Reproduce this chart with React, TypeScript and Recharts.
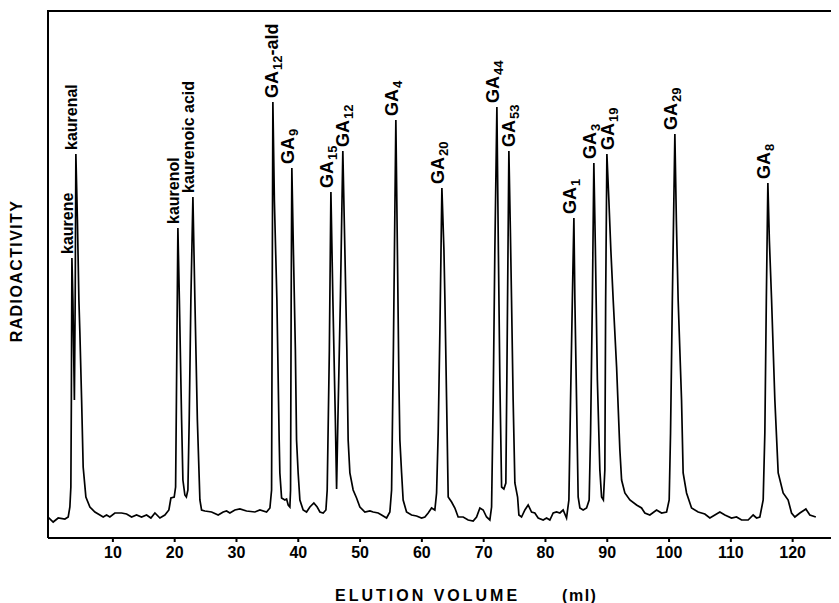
import React from 'react';
import { ComposedChart, Line, Scatter, XAxis, YAxis, ReferenceLine } from 'recharts';

// Elution volume (ml) of each point on the trace
const elutionMl = [
  -0.5, 0.34, 1.15, 2.23, 2.77, 3.04, 3.2, 3.28, 3.37, 3.53, 3.77, 3.9, 4.01, 4.26, 4.5, 4.66, 4.94, 5.19, 5.63, 6.28,
  7.09, 7.9, 8.43, 8.98, 9.51, 10.32, 11.41, 12.22, 13.03, 13.83, 14.64, 15.45, 16.15, 16.8, 17.61, 18.41, 19.06, 19.39, 19.92, 20.15,
  20.28, 20.52, 20.76, 21.12, 21.33, 21.65, 21.89, 22.14, 22.35, 22.62, 22.95, 23.27, 23.67, 24.08, 24.35, 24.89, 25.97, 27.04, 27.85, 28.4,
  28.93, 29.74, 30.55, 31.63, 32.98, 33.79, 34.87, 35.41, 35.68, 35.78, 35.89, 36.13, 36.54, 36.91, 37.02, 37.3, 37.83, 38.11, 38.37, 38.64,
  38.75, 38.85, 38.96, 39.21, 39.53, 39.72, 39.98, 40.26, 40.79, 41.34, 41.88, 42.52, 43.06, 43.5, 44.03, 44.47, 44.68, 45.03, 45.28, 45.6,
  46.0, 46.2, 46.41, 46.81, 47.21, 47.54, 47.86, 48.07, 48.35, 48.88, 49.43, 49.97, 50.78, 51.59, 52.12, 52.93, 53.48, 54.29, 54.82, 55.1,
  55.39, 55.79, 56.04, 56.28, 56.44, 56.72, 56.97, 57.52, 58.33, 59.14, 59.95, 60.49, 61.02, 61.57, 62.1, 62.38, 62.64, 62.91, 63.24, 63.57,
  63.73, 64.0, 64.26, 64.81, 65.34, 65.87, 66.68, 67.49, 68.3, 68.85, 69.39, 69.92, 70.47, 71.0, 71.28, 71.54, 71.81, 72.14, 72.38, 72.62,
  72.9, 73.27, 73.59, 73.75, 74.08, 74.32, 74.51, 74.77, 75.05, 75.49, 75.7, 76.13, 76.67, 77.2, 77.75, 78.28, 78.82, 79.63, 80.18, 80.71,
  81.25, 81.8, 82.33, 82.86, 83.41, 83.79, 84.06, 84.35, 84.6, 84.76, 85.03, 85.29, 85.57, 86.1, 86.65, 87.07, 87.3, 87.59, 87.83, 88.08,
  88.4, 88.8, 89.08, 89.37, 89.61, 89.74, 89.94, 90.26, 90.58, 90.96, 91.51, 92.04, 92.32, 92.85, 93.66, 94.74, 95.55, 96.08, 96.89, 97.98,
  98.79, 99.6, 100.02, 100.24, 100.53, 100.94, 101.18, 101.47, 102.02, 102.28, 102.83, 103.64, 104.71, 105.79, 106.6, 107.41, 108.22, 109.03, 110.11, 110.92,
  111.73, 112.8, 113.61, 114.16, 114.69, 115.23, 115.5, 115.74, 115.99, 116.23, 116.59, 117.12, 117.66, 118.46, 119.27, 119.82, 120.36, 121.17, 122.14, 122.78,
  123.75,
];

// Radioactivity (arbitrary units) at each point
const radioactivity = [
  21, 16, 20, 19, 21, 31, 51, 138, 280, 238, 138, 238, 384, 318, 238, 205, 138, 71, 41, 31,
  26, 23, 21, 23, 21, 25, 25, 24, 21, 23, 21, 23, 20, 25, 20, 23, 28, 40, 41, 51,
  138, 310, 238, 118, 58, 43, 41, 48, 118, 238, 341, 238, 118, 38, 28, 27, 26, 23, 26, 27,
  25, 28, 29, 27, 26, 28, 26, 30, 48, 238, 436, 338, 238, 98, 65, 40, 38, 39, 33, 31,
  48, 238, 370, 288, 188, 98, 65, 38, 28, 26, 31, 35, 31, 26, 25, 28, 48, 188, 346, 238,
  118, 49, 118, 238, 387, 288, 188, 98, 65, 48, 40, 31, 26, 27, 26, 25, 23, 20, 26, 48,
  188, 418, 288, 158, 98, 65, 38, 26, 23, 22, 20, 21, 25, 30, 28, 45, 105, 205, 350, 288,
  238, 138, 41, 36, 30, 21, 21, 18, 17, 21, 30, 28, 21, 18, 31, 138, 288, 431, 288, 158,
  51, 49, 55, 158, 387, 308, 238, 138, 55, 41, 23, 21, 28, 33, 26, 25, 20, 18, 20, 18,
  25, 26, 25, 28, 20, 38, 138, 238, 320, 238, 138, 41, 30, 28, 30, 38, 105, 238, 375, 288,
  158, 68, 41, 38, 68, 238, 384, 338, 288, 238, 171, 88, 58, 45, 38, 33, 30, 25, 23, 28,
  25, 26, 38, 105, 238, 404, 318, 238, 138, 65, 45, 30, 26, 24, 20, 23, 26, 23, 20, 21,
  18, 18, 23, 20, 21, 38, 105, 238, 355, 298, 238, 138, 65, 45, 38, 25, 21, 25, 29, 23,
  21,
];

// Labelled peaks
const peakName = ['kaurene', 'kaurenal', 'kaurenol', 'kaurenoic acid', 'GA', 'GA', 'GA', 'GA', 'GA', 'GA', 'GA', 'GA', 'GA', 'GA', 'GA', 'GA', 'GA'];
const peakSub = ['', '', '', '', '12', '9', '15', '12', '4', '20', '44', '53', '1', '3', '19', '29', '8'];
const peakSuffix = ['', '', '', '', '-ald', '', '', '', '', '', '', '', '', '', '', '', ''];
const peakMl = [3.37, 4.01, 20.52, 22.95, 35.89, 38.96, 45.28, 47.21, 55.79, 63.24, 72.14, 74.08, 84.6, 87.83, 89.94, 100.94, 115.99];
const peakTop = [280, 384, 310, 341, 436, 370, 346, 387, 418, 350, 431, 387, 320, 375, 384, 404, 355];

const xTicks = [10, 20, 30, 40, 50, 60, 70, 80, 90, 100, 110, 120];

const trace = elutionMl.map((x, i) => ({ x, v: radioactivity[i] }));
const peaks = peakMl.map((x, i) => ({ x, v: peakTop[i], name: peakName[i], sub: peakSub[i], suffix: peakSuffix[i] }));

const FONT = '"Liberation Sans", Arial, sans-serif';

// horizontal label nudges (px) so crowded labels sit as in the original figure
const LABEL_NUDGE: Record<string, number> = {
  'GA12-ald': 3,
  GA12: 4,
  GA53: 4,
  GA19: 5,
};

const PeakLabel = (props: any) => {
  const { cx, cy, payload } = props;
  if (cx == null || cy == null) return null;
  const isGA = payload.name === 'GA';
  const key = payload.name + payload.sub + payload.suffix;
  const x = cx + (isGA ? 2 : 1) + (LABEL_NUDGE[key] || 0);
  const y = cy - 4;
  return (
    <text
      x={x}
      y={y}
      transform={`rotate(-90 ${x} ${y})`}
      fontFamily={FONT}
      fontWeight="bold"
      fontSize={isGA ? 18 : 16}
      fill="#000"
    >
      {payload.name}
      {payload.sub ? (
        <tspan dx={1} dy={4} fontSize={13}>
          {payload.sub}
        </tspan>
      ) : null}
      {payload.suffix ? <tspan dy={-4}>{payload.suffix}</tspan> : null}
    </text>
  );
};

const XTitle = () => (
  <text x={327} y={593} fontFamily={FONT} fontWeight="bold" fontSize={16} letterSpacing={3} fill="#000">
    ELUTION VOLUME
    <tspan dx={42} letterSpacing={1.5}>(ml)</tspan>
  </text>
);

const YTitle = () => (
  <text
    x={14}
    y={263}
    transform="rotate(-90 14 263)"
    textAnchor="middle"
    fontFamily={FONT}
    fontWeight="bold"
    fontSize={16}
    letterSpacing={1.4}
    fill="#000"
  >
    RADIOACTIVITY
  </text>
);

export default function App() {
  return (
    <ComposedChart width={831} height={595} margin={{ top: 2, right: 0, left: 0, bottom: 35 }}>
      <XAxis
        type="number"
        dataKey="x"
        domain={[-0.5, 127.5]}
        ticks={xTicks}
        allowDataOverflow
        height={30}
        tickSize={4}
        tickMargin={5}
        axisLine={{ stroke: '#000', strokeWidth: 2 }}
        tickLine={{ stroke: '#000', strokeWidth: 2 }}
        tick={{ fill: '#000', fontFamily: FONT, fontWeight: 'bold', fontSize: 16 }}
        label={{ content: () => <XTitle /> }}
      />
      <YAxis
        type="number"
        dataKey="v"
        domain={[0, 528]}
        width={40}
        tick={false}
        tickLine={false}
        axisLine={{ stroke: '#000', strokeWidth: 2 }}
        label={{ content: () => <YTitle /> }}
      />
      <ReferenceLine y={527} stroke="#000" strokeWidth={2} ifOverflow="extendDomain" />
      <Line
        data={trace}
        dataKey="v"
        type="linear"
        stroke="#000"
        strokeWidth={1.7}
        dot={false}
        isAnimationActive={false}
      />
      <Scatter data={peaks} dataKey="v" shape={PeakLabel} isAnimationActive={false} />
    </ComposedChart>
  );
}
